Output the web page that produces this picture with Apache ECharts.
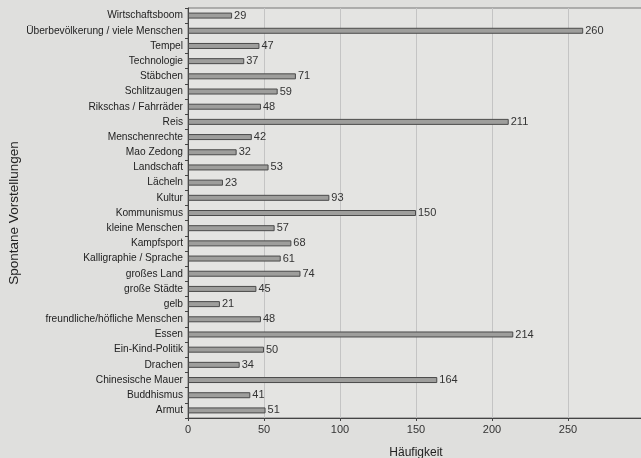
<!DOCTYPE html>
<html>
<head>
<meta charset="utf-8">
<script src="https://cdn.jsdelivr.net/npm/echarts@6/dist/echarts.min.js"></script>
<style>
  html, body { margin: 0; padding: 0; background: #dfdfdd; }
  #chart { width: 641px; height: 458px; }
</style>
</head>
<body>
<div id="chart"></div>
<script>
// Categories, top to bottom as listed in the chart
const categories = [
  'Wirtschaftsboom', 'Überbevölkerung / viele Menschen', 'Tempel', 'Technologie',
  'Stäbchen', 'Schlitzaugen', 'Rikschas / Fahrräder', 'Reis', 'Menschenrechte',
  'Mao Zedong', 'Landschaft', 'Lächeln', 'Kultur', 'Kommunismus', 'kleine Menschen',
  'Kampfsport', 'Kalligraphie / Sprache', 'großes Land', 'große Städte', 'gelb',
  'freundliche/höfliche Menschen', 'Essen', 'Ein-Kind-Politik', 'Drachen',
  'Chinesische Mauer', 'Buddhismus', 'Armut'
];
const counts = [
  29, 260, 47, 37, 71, 59, 48, 211, 42, 32, 53, 23, 93, 150, 57,
  68, 61, 74, 45, 21, 48, 214, 50, 34, 164, 41, 51
];
const xTicks = [0, 50, 100, 150, 200, 250, 300];

const chart = echarts.init(document.getElementById('chart'));
const font = 'Liberation Sans, Arial, sans-serif';
chart.setOption({
  backgroundColor: '#dfdfdd',
  animation: false,
  grid: {
    left: 188, top: 8, width: 456, height: 410,
    outerBoundsMode: 'none', containLabel: false,
    show: true, backgroundColor: '#e4e4e2', borderColor: '#777', borderWidth: 1
  },
  xAxis: {
    type: 'value', min: xTicks[0], max: xTicks[xTicks.length - 1], interval: 50,
    name: 'Häufigkeit', nameLocation: 'middle', nameGap: 29, nameMoveOverlap: false,
    nameTextStyle: { fontFamily: font, fontSize: 12, color: '#222' },
    axisLine: { show: true, lineStyle: { color: '#444' } },
    axisTick: { show: true, length: 3, lineStyle: { color: '#444' } },
    axisLabel: {
      fontFamily: font, fontSize: 11, color: '#333', margin: 6,
      formatter: v => (v === 300 ? '' : String(v))
    },
    splitLine: { show: true, lineStyle: { color: '#c4c4c4', width: 1 } }
  },
  yAxis: {
    type: 'category', data: categories, inverse: true,
    name: 'Spontane Vorstellungen', nameLocation: 'middle', nameGap: 167, nameMoveOverlap: false,
    nameTextStyle: { fontFamily: font, fontSize: 13.5, color: '#222' },
    axisLine: { show: true, lineStyle: { color: '#444' } },
    axisTick: { show: true, length: 3, lineStyle: { color: '#444' } },
    axisLabel: { fontFamily: font, fontSize: 10.2, color: '#222', margin: 5 },
    splitLine: { show: false }
  },
  series: [{
    type: 'bar', data: counts, barWidth: 6,
    itemStyle: { color: '#9e9e9c', borderColor: '#4a4a4a', borderWidth: 1 },
    label: {
      show: true, position: 'right', distance: 2,
      fontFamily: font, fontSize: 11, color: '#333'
    }
  }]
});
</script>
</body>
</html>
